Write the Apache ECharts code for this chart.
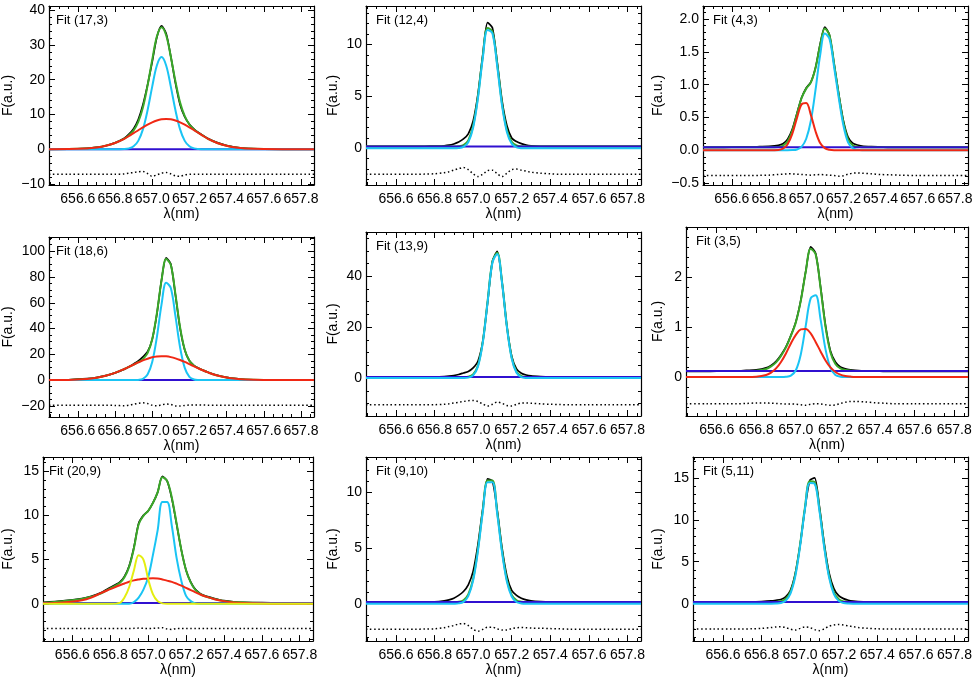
<!DOCTYPE html>
<html>
<head>
<meta charset="utf-8">
<script src="https://cdn.jsdelivr.net/npm/echarts@6/dist/echarts.min.js"></script>
<style>
html, body { margin: 0; padding: 0; background: #fff; }
#main { width: 977px; height: 678px; }
</style>
</head>
<body>
<div id="main"></div>
<script>
// wavelength grid (nm), shared by all panels
var lam = [656.445, 656.55, 656.65, 656.70, 656.75, 656.80, 656.85, 656.875, 656.90, 656.925, 656.95, 656.975,
	657.00, 657.025, 657.05, 657.075, 657.10, 657.125, 657.15, 657.175, 657.20, 657.225, 657.25, 657.275,
	657.30, 657.35, 657.40, 657.45, 657.50, 657.60, 657.70, 657.87];
var xRange = [656.445, 657.87];
var xTicks = ['656.6', '656.8', '657.0', '657.2', '657.4', '657.6', '657.8'];

var titles = ['Fit (17,3)', 'Fit (12,4)', 'Fit (4,3)', 'Fit (18,6)', 'Fit (13,9)', 'Fit (3,5)', 'Fit (20,9)', 'Fit (9,10)', 'Fit (5,11)'];

// Fit (17,3)
var p1Obs = [0, 0.03, 0.25, 0.5, 1.0, 1.85, 3.16, 4.34, 5.93, 8.55, 12.8, 18.5, 25.1, 32.2, 35.5, 33.3, 26.7, 19.0, 12.8, 9.3, 7.2, 5.8, 4.75, 3.9, 3.1, 1.9, 1.05, 0.55, 0.25, 0.08, 0.02, 0];
var p1Fit = [0, 0.03, 0.2, 0.47, 0.97, 1.8, 3.06, 4.04, 5.43, 7.85, 12.0, 18.3, 25.7, 32.4, 35.1, 32.8, 26.6, 19.5, 13.4, 9.5, 7.1, 5.7, 4.66, 3.8, 3.0, 1.8, 0.97, 0.47, 0.2, 0.03, 0, 0];
var p1Cyan = [0, 0, 0, 0, 0, 0, 0.06, 0.24, 0.83, 2.4, 5.7, 11.2, 18.0, 24.1, 26.5, 24.1, 18.0, 11.2, 5.7, 2.4, 0.83, 0.24, 0.06, 0, 0, 0, 0, 0, 0, 0, 0, 0];
var p1Red = [0, 0.03, 0.2, 0.47, 0.97, 1.8, 3.0, 3.8, 4.6, 5.45, 6.3, 7.07, 7.74, 8.26, 8.59, 8.7, 8.59, 8.26, 7.74, 7.07, 6.3, 5.45, 4.6, 3.8, 3.0, 1.8, 0.97, 0.47, 0.2, 0.03, 0, 0];
var p1Res = [-7.2, -7.2, -7.2, -7.2, -7.2, -7.2, -7.1, -6.9, -6.7, -6.5, -6.4, -7.0, -7.8, -7.4, -6.9, -6.7, -7.1, -7.7, -7.8, -7.4, -7.2, -7.2, -7.2, -7.2, -7.2, -7.2, -7.2, -7.2, -7.2, -7.2, -7.2, -7.2];
var p1Cont = 0;

// Fit (12,4)
var p2Obs = [0.18, 0.18, 0.18, 0.19, 0.2, 0.22, 0.25, 0.3, 0.42, 0.6, 0.9, 1.4, 2.6, 5.2, 9.0, 12.1, 11.6, 8.3, 4.6, 2.2, 1.0, 0.65, 0.45, 0.32, 0.25, 0.2, 0.19, 0.18, 0.18, 0.18, 0.18, 0.18];
var p2Fit = [0.18, 0.18, 0.18, 0.18, 0.18, 0.18, 0.18, 0.18, 0.18, 0.2, 0.31, 0.77, 2.15, 4.99, 8.83, 11.58, 11.25, 8.08, 4.3, 1.76, 0.63, 0.27, 0.19, 0.18, 0.18, 0.18, 0.18, 0.18, 0.18, 0.18, 0.18, 0.18];
var p2Cyan = [0, 0, 0, 0, 0, 0, 0, 0, 0, 0.02, 0.13, 0.59, 1.97, 4.81, 8.65, 11.4, 11.07, 7.9, 4.12, 1.58, 0.45, 0.09, 0.01, 0, 0, 0, 0, 0, 0, 0, 0, 0];
var p2Res = [-2.5, -2.5, -2.5, -2.5, -2.48, -2.45, -2.35, -2.25, -2.1, -1.95, -1.85, -2.05, -2.45, -2.72, -2.5, -2.15, -2.1, -2.45, -2.72, -2.4, -2.05, -2.0, -2.1, -2.2, -2.3, -2.4, -2.45, -2.5, -2.5, -2.5, -2.5, -2.5];
var p2Cont = 0.18;

// Fit (4,3)
var p3Obs = [0.045, 0.045, 0.05, 0.05, 0.055, 0.06, 0.075, 0.1, 0.17, 0.32, 0.56, 0.8, 0.95, 1.04, 1.26, 1.62, 1.88, 1.76, 1.32, 0.86, 0.45, 0.2, 0.11, 0.08, 0.065, 0.055, 0.05, 0.045, 0.045, 0.045, 0.045, 0.045];
var p3Fit = [0.045, 0.045, 0.045, 0.045, 0.045, 0.045, 0.05, 0.069, 0.136, 0.296, 0.547, 0.797, 0.94, 1.035, 1.255, 1.605, 1.858, 1.752, 1.315, 0.845, 0.425, 0.165, 0.077, 0.052, 0.045, 0.045, 0.045, 0.045, 0.045, 0.045, 0.045, 0.045];
var p3Cyan = [0, 0, 0, 0, 0, 0, 0, 0, 0, 0.002, 0.012, 0.052, 0.175, 0.45, 0.92, 1.45, 1.78, 1.7, 1.27, 0.8, 0.38, 0.12, 0.032, 0.007, 0, 0, 0, 0, 0, 0, 0, 0];
var p3Red = [0, 0, 0, 0, 0, 0, 0.005, 0.024, 0.091, 0.249, 0.49, 0.7, 0.72, 0.54, 0.29, 0.11, 0.033, 0.007, 0, 0, 0, 0, 0, 0, 0, 0, 0, 0, 0, 0, 0, 0];
var p3Res = [-0.385, -0.385, -0.385, -0.385, -0.383, -0.38, -0.37, -0.365, -0.36, -0.36, -0.365, -0.37, -0.375, -0.38, -0.375, -0.37, -0.375, -0.38, -0.385, -0.395, -0.39, -0.365, -0.35, -0.345, -0.35, -0.36, -0.37, -0.375, -0.38, -0.385, -0.385, -0.385];
var p3Cont = 0.045;

// Fit (18,6)
var p4Obs = [0.05, 0.3, 1.1, 2.0, 3.5, 5.6, 8.4, 10.4, 12.6, 14.9, 18.1, 22.0, 31.6, 51.2, 77.6, 94.9, 90.0, 65.9, 40.2, 23.4, 15.0, 11.3, 9.2, 7.6, 6.1, 3.8, 2.1, 1.1, 0.5, 0.15, 0.05, 0.02];
var p4Fit = [0.02, 0.17, 0.91, 1.83, 3.38, 5.65, 8.65, 10.3, 12.0, 13.9, 16.3, 20.9, 31.7, 51.7, 77.2, 93.9, 89.3, 66.5, 40.9, 23.6, 15.0, 11.2, 9.1, 7.44, 5.98, 3.6, 1.98, 0.99, 0.45, 0.07, 0, 0];
var p4Cyan = [0, 0, 0, 0, 0, 0, 0, 0, 0.02, 0.16, 0.97, 4.3, 14.0, 33.4, 58.6, 75.5, 71.4, 49.6, 25.3, 9.5, 2.6, 0.53, 0.08, 0, 0, 0, 0, 0, 0, 0, 0, 0];
var p4Red = [0.02, 0.17, 0.91, 1.83, 3.38, 5.65, 8.65, 10.3, 12.0, 13.7, 15.3, 16.6, 17.7, 18.3, 18.6, 18.43, 17.85, 16.9, 15.6, 14.1, 12.4, 10.7, 9.0, 7.44, 5.98, 3.6, 1.98, 0.99, 0.45, 0.07, 0, 0];
var p4Res = [-19.4, -19.4, -19.4, -19.4, -19.5, -19.6, -19.9, -19.5, -18.8, -18.0, -17.6, -18.2, -19.5, -19.9, -19.2, -18.6, -18.9, -20.0, -20.1, -19.6, -19.3, -19.2, -19.2, -19.3, -19.4, -19.4, -19.4, -19.4, -19.4, -19.4, -19.4, -19.4];
var p4Cont = 0;

// Fit (13,9)
var p5Obs = [0.4, 0.4, 0.4, 0.4, 0.42, 0.45, 0.6, 0.75, 1.0, 1.4, 2.0, 2.6, 4.0, 6.6, 14.3, 29.6, 45.8, 49.8, 37.6, 20.4, 8.6, 3.6, 1.9, 1.2, 0.85, 0.6, 0.45, 0.4, 0.4, 0.4, 0.4, 0.4];
var p5Fit = [0.4, 0.4, 0.4, 0.4, 0.4, 0.4, 0.4, 0.4, 0.4, 0.4, 0.42, 0.57, 1.45, 4.9, 14.2, 30.1, 45.7, 49.2, 37.7, 20.5, 8.1, 2.48, 0.8, 0.45, 0.4, 0.4, 0.4, 0.4, 0.4, 0.4, 0.4, 0.4];
var p5Cyan = [0, 0, 0, 0, 0, 0, 0, 0, 0, 0, 0.02, 0.17, 1.05, 4.5, 13.8, 29.7, 45.3, 48.8, 37.3, 20.1, 7.7, 2.08, 0.4, 0.05, 0, 0, 0, 0, 0, 0, 0, 0];
var p5Res = [-10.5, -10.5, -10.5, -10.5, -10.5, -10.45, -10.3, -10.1, -9.8, -9.5, -9.2, -8.9, -8.8, -9.2, -10.2, -11.0, -10.3, -9.4, -9.9, -10.8, -11.0, -10.3, -9.8, -9.8, -9.9, -10.1, -10.3, -10.4, -10.5, -10.5, -10.5, -10.5];
var p5Cont = 0.4;

// Fit (3,5)
var p6Obs = [0.11, 0.11, 0.12, 0.12, 0.13, 0.14, 0.18, 0.23, 0.31, 0.44, 0.6, 0.83, 1.1, 1.53, 2.11, 2.6, 2.47, 1.8, 1.03, 0.52, 0.3, 0.2, 0.16, 0.14, 0.13, 0.12, 0.12, 0.11, 0.11, 0.11, 0.11, 0.11];
var p6Fit = [0.12, 0.12, 0.12, 0.12, 0.12, 0.126, 0.16, 0.21, 0.29, 0.42, 0.59, 0.82, 1.09, 1.52, 2.1, 2.56, 2.45, 1.78, 1.0, 0.49, 0.26, 0.17, 0.14, 0.127, 0.12, 0.12, 0.12, 0.12, 0.12, 0.12, 0.12, 0.12];
var p6Cyan = [0, 0, 0, 0, 0, 0, 0, 0, 0, 0, 0.004, 0.027, 0.134, 0.45, 1.02, 1.57, 1.63, 1.15, 0.55, 0.18, 0.038, 0.006, 0, 0, 0, 0, 0, 0, 0, 0, 0, 0];
var p6Red = [0, 0, 0, 0, 0, 0.006, 0.039, 0.086, 0.17, 0.3, 0.47, 0.67, 0.84, 0.95, 0.96, 0.87, 0.7, 0.51, 0.33, 0.19, 0.1, 0.046, 0.019, 0.007, 0, 0, 0, 0, 0, 0, 0, 0];
var p6Res = [-0.535, -0.535, -0.535, -0.535, -0.53, -0.52, -0.52, -0.525, -0.53, -0.535, -0.54, -0.54, -0.545, -0.555, -0.565, -0.545, -0.535, -0.54, -0.555, -0.565, -0.56, -0.53, -0.505, -0.49, -0.49, -0.5, -0.515, -0.525, -0.535, -0.535, -0.535, -0.535];
var p6Cont = 0.12;

// Fit (20,9)
var p7Obs = [0.15, 0.32, 0.6, 0.85, 1.25, 1.85, 2.45, 3.1, 4.3, 6.4, 9.1, 10.0, 10.5, 11.4, 12.6, 14.4, 13.9, 11.9, 9.0, 6.1, 3.8, 2.45, 1.6, 1.15, 0.9, 0.6, 0.35, 0.22, 0.15, 0.12, 0.1, 0.1];
var p7Fit = [0.12, 0.3, 0.55, 0.8, 1.15, 1.75, 2.35, 3.0, 4.2, 6.3, 9.0, 9.95, 10.5, 11.4, 12.6, 14.3, 13.9, 12.0, 9.1, 6.1, 3.8, 2.4, 1.55, 1.1, 0.85, 0.55, 0.32, 0.2, 0.14, 0.1, 0.1, 0.1];
var p7Cyan = [0, 0, 0, 0, 0, 0, 0, 0, 0, 0.2, 0.7, 1.6, 3.0, 5.5, 8.3, 11.5, 11.5, 8.8, 5.2, 2.6, 0.9, 0.3, 0.05, 0, 0, 0, 0, 0, 0, 0, 0, 0];
var p7Red = [0.05, 0.15, 0.4, 0.7, 1.2, 1.65, 2.1, 2.3, 2.5, 2.65, 2.75, 2.83, 2.87, 2.88, 2.85, 2.75, 2.62, 2.48, 2.28, 2.05, 1.8, 1.55, 1.3, 1.05, 0.85, 0.52, 0.3, 0.15, 0.08, 0.02, 0, 0];
var p7Yellow = [0, 0, 0, 0, 0, 0, 0.1, 0.7, 1.9, 3.8, 5.5, 5.0, 2.8, 1.1, 0.3, 0.05, 0, 0, 0, 0, 0, 0, 0, 0, 0, 0, 0, 0, 0, 0, 0, 0];
var p7Res = [-2.8, -2.8, -2.8, -2.8, -2.8, -2.8, -2.8, -2.8, -2.8, -2.78, -2.75, -2.78, -2.8, -2.78, -2.75, -2.7, -2.85, -2.9, -2.8, -2.8, -2.8, -2.8, -2.8, -2.8, -2.8, -2.8, -2.8, -2.8, -2.8, -2.8, -2.8, -2.8];
var p7Cont = 0.1;

// Fit (9,10)
var p8Obs = [0.15, 0.15, 0.15, 0.15, 0.16, 0.18, 0.27, 0.35, 0.5, 0.75, 1.1, 1.7, 2.9, 5.3, 8.5, 11.2, 11.0, 8.4, 5.0, 2.5, 1.2, 0.75, 0.5, 0.35, 0.27, 0.2, 0.16, 0.15, 0.15, 0.15, 0.15, 0.15];
var p8Fit = [0.15, 0.15, 0.15, 0.15, 0.15, 0.15, 0.15, 0.15, 0.155, 0.18, 0.32, 0.84, 2.22, 4.89, 8.35, 11.05, 11.05, 8.21, 4.75, 2.15, 0.8, 0.31, 0.18, 0.15, 0.15, 0.15, 0.15, 0.15, 0.15, 0.15, 0.15, 0.15];
var p8Cyan = [0, 0, 0, 0, 0, 0, 0, 0, 0.005, 0.033, 0.17, 0.69, 2.07, 4.74, 8.2, 10.9, 10.9, 8.06, 4.6, 2.0, 0.65, 0.16, 0.03, 0, 0, 0, 0, 0, 0, 0, 0, 0];
var p8Res = [-2.28, -2.28, -2.28, -2.28, -2.27, -2.25, -2.15, -2.05, -1.95, -1.82, -1.78, -1.95, -2.3, -2.46, -2.3, -2.1, -2.1, -2.25, -2.36, -2.35, -2.22, -2.15, -2.13, -2.15, -2.18, -2.2, -2.23, -2.25, -2.28, -2.28, -2.28, -2.28];
var p8Cont = 0.15;

// Fit (5,11)
var p9Obs = [0.2, 0.2, 0.2, 0.2, 0.22, 0.25, 0.32, 0.4, 0.5, 0.8, 1.6, 3.6, 7.0, 11.3, 14.7, 15.0, 11.6, 7.2, 3.7, 1.8, 0.95, 0.6, 0.4, 0.3, 0.25, 0.22, 0.2, 0.2, 0.2, 0.2, 0.2, 0.2];
var p9Fit = [0.2, 0.2, 0.2, 0.2, 0.2, 0.2, 0.2, 0.21, 0.28, 0.55, 1.4, 3.46, 7.06, 11.45, 14.6, 14.5, 11.3, 6.9, 3.34, 1.35, 0.53, 0.27, 0.21, 0.2, 0.2, 0.2, 0.2, 0.2, 0.2, 0.2, 0.2, 0.2];
var p9Cyan = [0, 0, 0, 0, 0, 0, 0, 0.013, 0.08, 0.35, 1.2, 3.26, 6.86, 11.25, 14.4, 14.3, 11.1, 6.7, 3.14, 1.15, 0.33, 0.07, 0.01, 0, 0, 0, 0, 0, 0, 0, 0, 0];
var p9Res = [-3.03, -3.03, -3.03, -3.03, -3.0, -2.95, -2.85, -2.78, -2.76, -2.85, -3.05, -3.15, -2.95, -2.78, -2.85, -3.1, -3.22, -3.0, -2.7, -2.55, -2.48, -2.55, -2.65, -2.75, -2.85, -2.95, -3.0, -3.03, -3.03, -3.03, -3.03, -3.03];
var p9Cont = 0.2;

// y axis ranges and tick steps
var yRanges = [[-10.3, 41.2], [-3.53, 13.7], [-0.53, 2.2], [-28.6, 111], [-14.9, 57.4], [-0.78, 2.995], [-4.22, 16.6], [-3.35, 13.16], [-4.47, 17.5]];
var yStep = [10, 5, 0.5, 20, 20, 1, 5, 5, 5];

var C_BLACK = '#000000', C_GREEN = '#3aa828', C_BLUE = '#3010d0', C_CYAN = '#1ac4f4', C_RED = '#f02814', C_YELLOW = '#e4ee10';

var panels = [
	{ obs: p1Obs, fit: p1Fit, cont: p1Cont, res: p1Res, comps: [[p1Cyan, C_CYAN], [p1Red, C_RED]] },
	{ obs: p2Obs, fit: p2Fit, cont: p2Cont, res: p2Res, comps: [[p2Cyan, C_CYAN]] },
	{ obs: p3Obs, fit: p3Fit, cont: p3Cont, res: p3Res, comps: [[p3Cyan, C_CYAN], [p3Red, C_RED]] },
	{ obs: p4Obs, fit: p4Fit, cont: p4Cont, res: p4Res, comps: [[p4Cyan, C_CYAN], [p4Red, C_RED]] },
	{ obs: p5Obs, fit: p5Fit, cont: p5Cont, res: p5Res, comps: [[p5Cyan, C_CYAN]] },
	{ obs: p6Obs, fit: p6Fit, cont: p6Cont, res: p6Res, comps: [[p6Cyan, C_CYAN], [p6Red, C_RED]] },
	{ obs: p7Obs, fit: p7Fit, cont: p7Cont, res: p7Res, comps: [[p7Cyan, C_CYAN], [p7Red, C_RED], [p7Yellow, C_YELLOW]] },
	{ obs: p8Obs, fit: p8Fit, cont: p8Cont, res: p8Res, comps: [[p8Cyan, C_CYAN]] },
	{ obs: p9Obs, fit: p9Fit, cont: p9Cont, res: p9Res, comps: [[p9Cyan, C_CYAN]] }
];

// plot boxes (px)
var boxes = [
	{ left: 46, top: 6, width: 268, height: 179, gap: 34 },
	{ left: 366, top: 6, width: 275, height: 179, gap: 26 },
	{ left: 703, top: 6, width: 265, height: 179, gap: 38 },
	{ left: 46, top: 237, width: 268, height: 180, gap: 34 },
	{ left: 366, top: 232, width: 275, height: 184, gap: 26 },
	{ left: 686, top: 227, width: 282, height: 189, gap: 21 },
	{ left: 39, top: 457, width: 274, height: 186, gap: 28 },
	{ left: 366, top: 457, width: 275, height: 186, gap: 26 },
	{ left: 693, top: 457, width: 275, height: 186, gap: 28 }
];

var FONT = 'Liberation Sans, Arial, Helvetica, sans-serif';
var FS = 14;

function onStep(v, step) {
	var q = v / step;
	return Math.abs(q - Math.round(q)) < 1e-6;
}
function minus(s) {
	return s.replace('-', '\u2212');
}
function pairs(arr) {
	return lam.map(function(x, k) {
		return [x, arr[k]];
	});
}

function makeAxis(pos, gridIndex, min, max, split, minor, showLabel, fmt) {
	return {
		type: 'value',
		gridIndex: gridIndex,
		position: pos,
		min: min,
		max: max,
		splitNumber: split,
		axisLine: { show: true, onZero: false, lineStyle: { color: '#000', width: 1.2 } },
		axisTick: { show: true, inside: true, length: 6, lineStyle: { color: '#000', width: 1 } },
		minorTick: { show: true, splitNumber: minor, length: 3, lineStyle: { color: '#000', width: 1 } },
		splitLine: { show: false },
		minorSplitLine: { show: false },
		axisLabel: {
			show: showLabel,
			color: '#000',
			fontSize: FS,
			fontFamily: FONT,
			margin: pos === 'bottom' ? 7 : 4,
			showMinLabel: true,
			showMaxLabel: true,
			formatter: fmt
		}
	};
}

var grids = [], xAxes = [], yAxes = [], series = [], titleList = [];

panels.forEach(function(p, i) {
	var b = boxes[i];
	var yr = yRanges[i];
	var st = yStep[i];
	var ySplit = Math.max(1, Math.round((yr[1] - yr[0]) / st));
	var yMinor = (st === 20) ? 4 : 5;
	var dec = st < 1 ? 1 : 0;

	grids.push({ left: b.left, top: b.top, width: b.width, height: b.height, containLabel: false });

	var xFmt = function(v) {
		if (!onStep(v, 0.2)) return '';
		var s = v.toFixed(1);
		return xTicks.indexOf(s) >= 0 ? s : '';
	};
	var yFmt = function(v) {
		if (!onStep(v, st)) return '';
		return minus(v.toFixed(dec));
	};

	var xb = makeAxis('bottom', i, xRange[0], xRange[1], 7, 4, true, xFmt);
	xb.name = '\u03bb(nm)';
	xb.nameLocation = 'middle';
	xb.nameGap = 21;
	xb.nameTextStyle = { color: '#000', fontSize: FS, fontFamily: FONT };
	xAxes.push(xb);
	xAxes.push(makeAxis('top', i, xRange[0], xRange[1], 7, 4, false, xFmt));

	var yl = makeAxis('left', i, yr[0], yr[1], ySplit, yMinor, true, yFmt);
	yl.name = 'F(a.u.)';
	yl.nameLocation = 'middle';
	yl.nameGap = b.gap;
	yl.nameTextStyle = { color: '#000', fontSize: FS, fontFamily: FONT };
	yAxes.push(yl);
	yAxes.push(makeAxis('right', i, yr[0], yr[1], ySplit, yMinor, false, yFmt));

	var xi = 2 * i, yi = 2 * i;
	function addLine(data, color, width, z, extra) {
		var s = {
			type: 'line',
			xAxisIndex: xi,
			yAxisIndex: yi,
			data: data,
			showSymbol: false,
			symbol: 'none',
			silent: true,
			z: z,
			lineStyle: { color: color, width: width }
		};
		for (var k in extra) s[k] = extra[k];
		return s;
	}

	series.push(addLine(pairs(p.obs), C_BLACK, 1.7, 2, { smooth: 0.25 }));
	series.push(addLine(pairs(p.fit), C_GREEN, 2, 3, { smooth: 0.35 }));
	series.push(addLine([[xRange[0], p.cont], [xRange[1], p.cont]], C_BLUE, 2, 4, {}));
	p.comps.forEach(function(c, k) {
		series.push(addLine(pairs(c[0]), c[1], 2, 5 + k, { smooth: 0.35 }));
	});
	var dotted = addLine(pairs(p.res), C_BLACK, 1.5, 2, { smooth: 0.3 });
	dotted.lineStyle.type = [1.5, 2.6];
	series.push(dotted);

	titleList.push({
		text: titles[i],
		left: b.left + 10,
		top: b.top + 8,
		padding: 0,
		textStyle: { color: '#000', fontSize: 13, fontWeight: 'normal', fontFamily: FONT }
	});
});

var chart = echarts.init(document.getElementById('main'));
chart.setOption({
	animation: false,
	backgroundColor: '#fff',
	textStyle: { fontFamily: FONT },
	title: titleList,
	grid: grids,
	xAxis: xAxes,
	yAxis: yAxes,
	series: series
});
</script>
</body>
</html>
